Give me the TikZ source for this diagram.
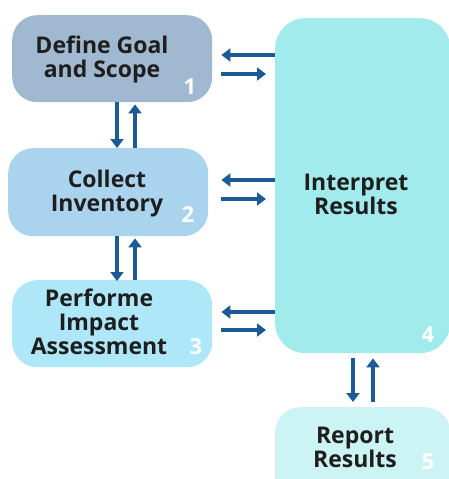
\documentclass[tikz,border=0pt]{standalone}
\usepackage{fontspec}
\setmainfont{Open Sans}
\usepackage{tikz}
\usetikzlibrary{positioning, arrows.meta}
\usepackage{xcolor}

\definecolor{boxone}{HTML}{A0B9D0}
\definecolor{boxtwo}{HTML}{AAD3EE}
\definecolor{boxthree}{HTML}{AEE7F8}
\definecolor{boxfour}{HTML}{A2EBEC}
\definecolor{boxfive}{HTML}{CDF4F5}
\definecolor{arrowblue}{HTML}{1B5A94}
\definecolor{textdark}{HTML}{1E1E1E}

\begin{document}
\begin{tikzpicture}[
    x=1pt, y=-1pt,
    stage/.style={rectangle, rounded corners=25pt, inner sep=0pt, anchor=north west},
    words/.style={align=center, font=\fontsize{23}{24}\selectfont\bfseries, text=textdark},
    num/.style={font=\fontsize{22}{22}\selectfont\bfseries, text=white, inner sep=0pt},
    flow/.style={draw=arrowblue, line width=3.8pt, -{Triangle[width=13pt,length=9pt]}}
]
  \clip (0,0) rectangle (449,479);

  % --- LEFT COLUMN ---
  \node[stage, fill=boxone, minimum width=200pt, minimum height=87pt] (b1) at (12,15) {};
  \node[stage, fill=boxtwo, minimum width=200pt, minimum height=88pt] (b2) at (8,148) {};
  \node[stage, fill=boxthree, minimum width=200pt, minimum height=87pt] (b3) at (12,280) {};

  % --- RIGHT COLUMN ---
  \node[stage, fill=boxfour, rounded corners=30pt, minimum width=175pt, minimum height=335pt] (b4) at (275,18) {};
  \node[stage, fill=boxfive, minimum width=175pt, minimum height=100pt] (b5) at (275,407) {};

  % --- TEXTS ---
  \node[words] (t1) at (102,59) {Define Goal\\and Scope};
  \node[words] (t2) at (107,194) {Collect\\Inventory};
  \node[words] (t3) at (99,322) {Performe\\Impact\\Assessment};
  \node[words] (t4) at (356,194) {Interpret\\Results};
  \node[words] (t5) at (355,447) {Report\\Results};

  % --- NUMBERS ---
  \node[num] (n1) at (190,87) {1};
  \node[num] (n2) at (188,215) {2};
  \node[num] (n3) at (196,347) {3};
  \node[num] (n4) at (428,335) {4};
  \node[num] (n5) at (428,462) {5};

  % --- ARROWS ---

  % Left column to right column
  \draw[flow] (b4.west |- 0,55) -- ([xshift=9pt]b1.east |- 0,55);
  \draw[flow] ([xshift=9pt]b1.east |- 0,74) -- ([xshift=-9pt]b4.west |- 0,74);
  \draw[flow] (b4.west |- 0,180) -- ([xshift=13pt]b2.east |- 0,180);
  \draw[flow] ([xshift=13pt]b2.east |- 0,199) -- ([xshift=-9pt]b4.west |- 0,199);
  \draw[flow] (b4.west |- 0,312) -- ([xshift=9pt]b3.east |- 0,312);
  \draw[flow] ([xshift=9pt]b3.east |- 0,330) -- ([xshift=-9pt]b4.west |- 0,330);

  % Between stages
  \draw[flow] (b1.south -| 117,0) -- (b2.north -| 117,0);
  \draw[flow] (b2.north -| 135,0) -- ([yshift=-2pt]b1.south -| 135,0);
  \draw[flow] (b2.south -| 117,0) -- ([yshift=-1pt]b3.north -| 117,0);
  \draw[flow] (b3.north -| 135,0) -- ([yshift=-2pt]b2.south -| 135,0);
  \draw[flow] ([yshift=-5pt]b4.south -| 353,0) -- ([yshift=5pt]b5.north -| 353,0);
  \draw[flow] ([yshift=5pt]b5.north -| 373,0) -- ([yshift=-5pt]b4.south -| 373,0);
\end{tikzpicture}
\end{document}
